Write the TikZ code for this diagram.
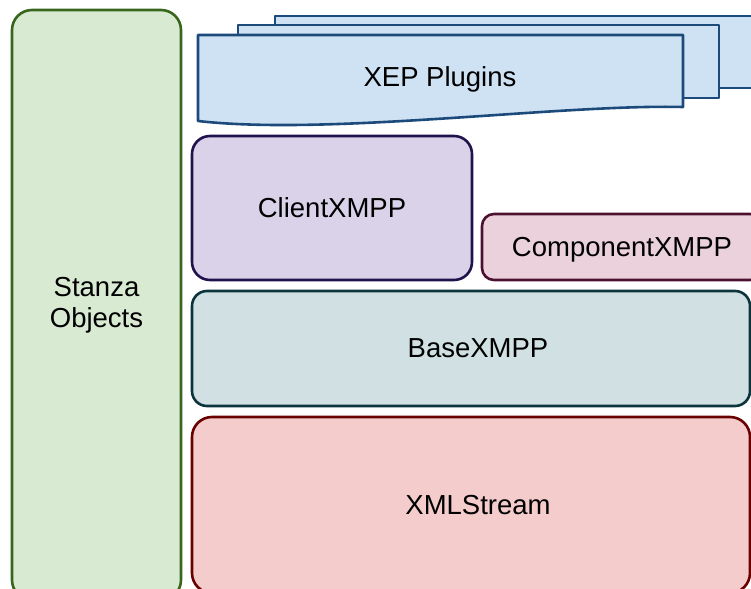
\documentclass[tikz,border=0pt]{standalone}
\usepackage{fontspec}
\setmainfont{Liberation Sans}
\usepackage{tikz}
\usetikzlibrary{positioning}

\definecolor{stanzaFill}{HTML}{D9EAD3}
\definecolor{stanzaLine}{HTML}{38661D}
\definecolor{xepFill}{HTML}{CFE2F3}
\definecolor{xepLine}{HTML}{1C4A7A}
\definecolor{clientFill}{HTML}{D9D2E9}
\definecolor{clientLine}{HTML}{20124D}
\definecolor{compFill}{HTML}{EAD1DC}
\definecolor{compLine}{HTML}{4C1130}
\definecolor{baseFill}{HTML}{D0E0E3}
\definecolor{baseLine}{HTML}{0C343D}
\definecolor{streamFill}{HTML}{F4CCCC}
\definecolor{streamLine}{HTML}{6B0000}

\begin{document}
\begin{tikzpicture}[x=1pt, y=-1pt, line width=2.6pt, outer sep=0pt,
  every node/.style={font=\fontsize{27.5}{31}\selectfont},
  layerbox/.style={draw, rectangle, rounded corners=#1, anchor=north west, inner sep=0pt, text depth=0pt},
  sheet/.style={draw=xepLine, fill=xepFill, line join=round}]
    \useasboundingbox (0,0) rectangle (751,588);
    \clip (0,0) rectangle (751,588);

    % left column
    \node (stanza) [layerbox=20pt, text depth=, fill=stanzaFill, draw=stanzaLine, minimum width=169pt, minimum height=590pt, align=center] at (12,10) {Stanza\\Objects};

    % plugin sheets, back to front
    \draw[sheet] (275,16) rectangle (775,88);
    \draw[sheet] (238,25) rectangle (719,98);
    \draw[sheet] (198,35) -- (683,35) -- (683,107) .. controls (560,104) and (330,136) .. (198,121) -- cycle;
    \node (xep) at (440,79) {XEP Plugins};

    % protocol layers
    \node (client) [layerbox=18pt, fill=clientFill, draw=clientLine, minimum width=280pt, minimum height=144pt] at (192,136) {ClientXMPP};
    \node (component) [layerbox=12pt, fill=compFill, draw=compLine, minimum width=280pt, minimum height=66pt] at (482,214) {ComponentXMPP};
    \node (base) [layerbox=15pt, fill=baseFill, draw=baseLine, minimum width=558pt, minimum height=115pt] at (192,291) {\hspace*{14pt}BaseXMPP};
    \node (stream) [layerbox=20pt, fill=streamFill, draw=streamLine, minimum width=558pt, minimum height=176pt] at (192,417) {\hspace*{14pt}XMLStream};
\end{tikzpicture}
\end{document}
